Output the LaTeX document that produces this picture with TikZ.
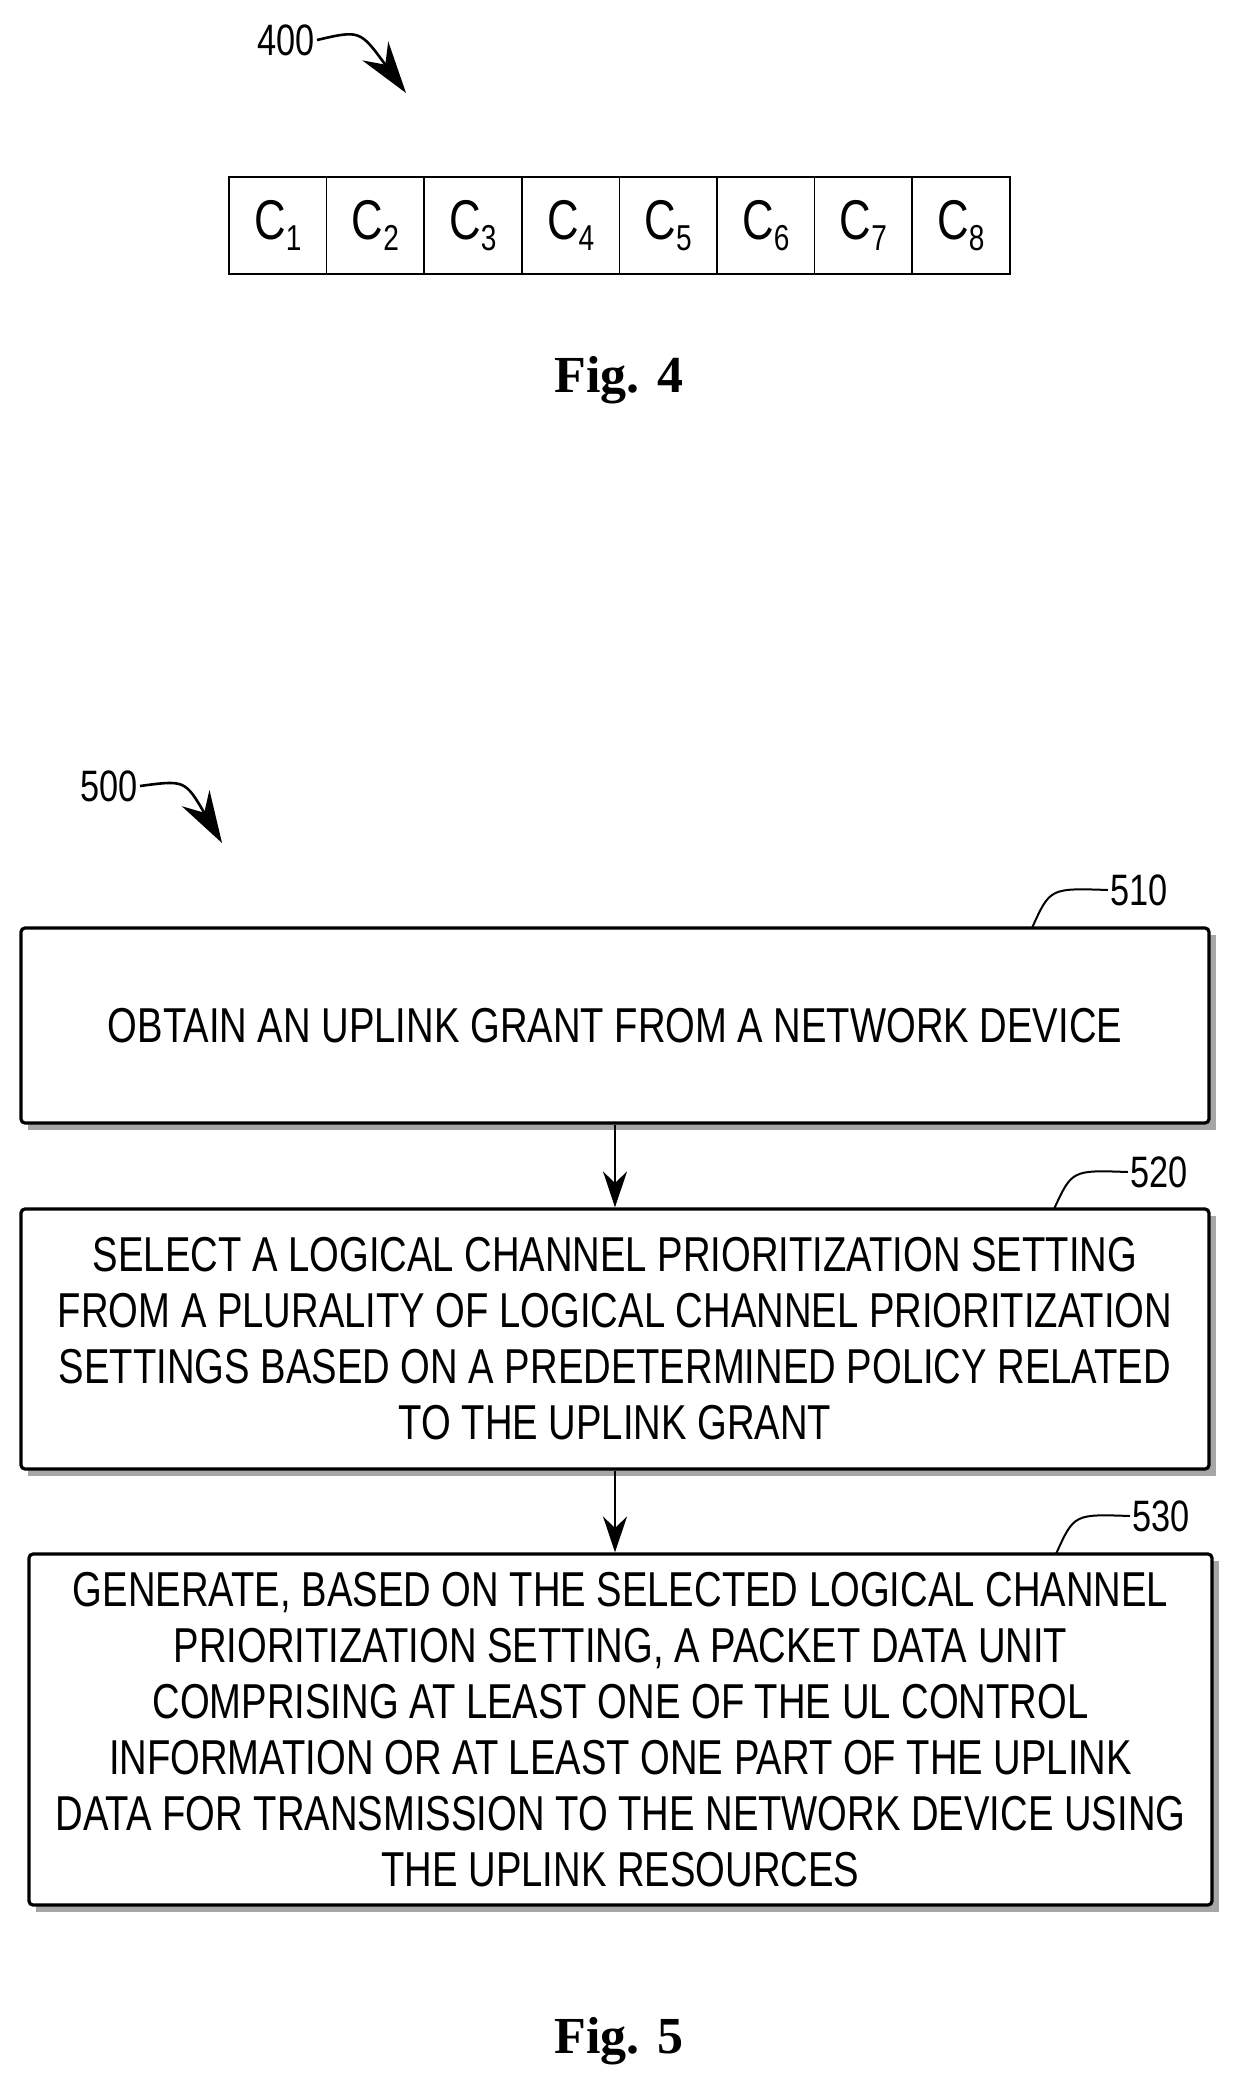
\documentclass[tikz,border=0pt]{standalone}
\usepackage{fontspec}
\setmainfont{Liberation Sans}[FakeStretch=0.78]
\newfontfamily\capfont{Liberation Serif}
\usetikzlibrary{arrows.meta}
\begin{document}
\begin{tikzpicture}[x=0.5pt,y=-0.5pt,
  cell/.style={draw,line width=0.8pt,minimum width=48.8pt,minimum height=48.5pt,inner sep=0pt,font=\fontsize{28}{30}\selectfont},
  box/.style={draw,line width=1.6pt,rounded corners=2pt,fill=white,align=center,inner sep=0pt,font=\fontsize{24.5}{28}\selectfont},
  ref/.style={font=\fontsize{22}{24}\selectfont,inner sep=1pt},
  lead/.style={line width=1pt},
  big/.style={-{Stealth[length=26pt,width=16pt]},line width=1.3pt},
  flow/.style={-{Stealth[length=18pt,width=12pt]},line width=1.2pt},
  figcap/.style={font=\capfont\bfseries\fontsize{26}{28}\selectfont}]
\useasboundingbox (0,0) rectangle (1244,2092);
% Fig 4
\foreach \i in {1,...,8}{
  \node[cell] (c\i) at ({229+97.6*(\i-0.5)},225.5) {C\raisebox{-0.35ex}{\fontsize{18}{18}\selectfont\i}};
}
\node[ref] (l400) at (286,40) {400};
\coordinate (a400) at (406,93);
\draw[big] (l400.east) .. controls (360,30) .. (a400);
\node[figcap] (f4) at (619,380) {Fig. 4};
% Fig 5
\node[ref] (l500) at (109,786) {500};
\coordinate (a500) at (222,843);
\draw[big] (l500.east) .. controls (185,780) .. (a500);
\foreach \n/\xa/\ya/\xb/\yb in {510/21/928/1209/1123,520/21/1209/1209/1469,530/29/1554/1212/1905}{
  \fill[gray!70] (\xa+7,\ya+7) rectangle (\xb+7,\yb+7);
}
\node[box,minimum width=594pt,minimum height=97.5pt] (b510) at (615,1025.5)
 {OBTAIN AN UPLINK GRANT FROM A NETWORK DEVICE};
\node[box,minimum width=594pt,minimum height=130pt] (b520) at (615,1339)
 {SELECT A LOGICAL CHANNEL PRIORITIZATION SETTING\\FROM A PLURALITY OF LOGICAL CHANNEL PRIORITIZATION\\SETTINGS BASED ON A PREDETERMINED POLICY RELATED\\TO THE UPLINK GRANT};
\node[box,minimum width=591.5pt,minimum height=175.5pt] (b530) at (620.5,1729.5)
 {GENERATE, BASED ON THE SELECTED LOGICAL CHANNEL\\PRIORITIZATION SETTING, A PACKET DATA UNIT\\COMPRISING AT LEAST ONE OF THE UL CONTROL\\INFORMATION OR AT LEAST ONE PART OF THE UPLINK\\DATA FOR TRANSMISSION TO THE NETWORK DEVICE USING\\THE UPLINK RESOURCES};
\draw[flow] (b510.south) -- (b520.north);
\draw[flow] (b520.south -| b510.south) -- (b530.north -| b510.south);
\node[ref] (l510) at (1139,890) {510};
\node[ref] (l520) at (1159,1172) {520};
\node[ref] (l530) at (1161,1516) {530};
\draw[lead] (l510.west) .. controls (1050,888) .. (1032,928);
\draw[lead] (l520.west) .. controls (1072,1170) .. (1054,1209);
\draw[lead] (l530.west) .. controls (1074,1514) .. (1056,1554);
\node[figcap] (f5) at (619,2041) {Fig. 5};
\end{tikzpicture}
\end{document}
